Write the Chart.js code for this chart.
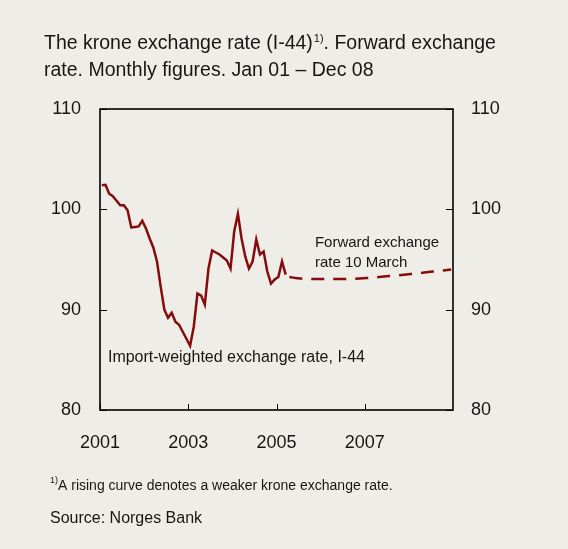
<!DOCTYPE html>
<html>
<head>
<meta charset="utf-8">
<title>The krone exchange rate (I-44)</title>
<script src="https://cdn.jsdelivr.net/npm/chart.js@4.4.1/dist/chart.umd.min.js"></script>
<style>
  html, body { margin: 0; padding: 0; background: #efede7; }
  #wrap { position: relative; width: 568px; height: 549px; }
</style>
</head>
<body>
<div id="wrap"><canvas id="krone" width="568" height="549"></canvas></div>
<script>
// Import-weighted exchange rate I-44, monthly averages from Jan 2001
const actualStart = '2001-01';
const actualValues = [
  102.4, 102.45, 101.55, 101.3, 100.85, 100.4, 100.4, 99.9, 98.2, 98.25, 98.3, 98.85,
  98.1, 97.1, 96.2, 94.8, 92.3, 90.0, 89.2, 89.7, 88.8, 88.5, 87.8, 87.1,
  86.4, 88.3, 91.6, 91.4, 90.5, 94.1, 95.9, 95.7, 95.5, 95.2, 94.9, 94.1,
  97.8, 99.55, 97.1, 95.3, 94.1, 94.8, 97.0, 95.5, 95.8, 93.8, 92.6, 93.0,
  93.25, 94.8, 93.5
];

// Forward exchange rate as of 10 March
const forwardMonths = ['2005-04', '2005-07', '2006-01', '2006-07', '2007-01', '2007-07', '2008-01', '2008-07', '2008-12'];
const forwardValues = [93.25, 93.1, 93.05, 93.05, 93.15, 93.35, 93.55, 93.8, 94.0];

const xTickYears = [2001, 2003, 2005, 2007];
const yTicks = [80, 90, 100, 110];

const FONT = "'Liberation Sans', Arial, sans-serif";
const RED = '#860b0b';
const INK = '#161616';

// month string -> decimal year, placed mid-month
function monthToX(s) {
  const [y, m] = s.split('-').map(Number);
  return y + (m - 0.5) / 12;
}

const x0 = monthToX(actualStart);
const actualPoints = actualValues.map((v, i) => ({ x: x0 + i / 12, y: v }));
const forwardPoints = forwardValues.map((v, i) => ({ x: monthToX(forwardMonths[i]), y: v }));

// box around the plot plus the small inward tick marks
const framePlugin = {
  id: 'frame',
  afterDatasetsDraw(chart) {
    const { ctx, chartArea: a, scales } = chart;
    ctx.save();
    ctx.strokeStyle = '#000';
    ctx.lineWidth = 1;
    ctx.beginPath();
    yTicks.forEach(v => {
      const y = Math.round(scales.y.getPixelForValue(v)) + 0.5;
      ctx.moveTo(a.left, y); ctx.lineTo(a.left + 7, y);
      ctx.moveTo(a.right, y); ctx.lineTo(a.right - 7, y);
    });
    xTickYears.forEach(v => {
      const x = Math.round(scales.x.getPixelForValue(v)) + 0.5;
      ctx.moveTo(x, a.bottom); ctx.lineTo(x, a.bottom - 6);
    });
    ctx.stroke();
    ctx.lineWidth = 1.6;
    ctx.strokeRect(a.left, a.top, a.right - a.left, a.bottom - a.top);
    ctx.restore();
  }
};

// title, series labels and footnotes
const textPlugin = {
  id: 'texts',
  afterDraw(chart) {
    const { ctx, scales } = chart;
    ctx.save();
    ctx.fillStyle = INK;
    ctx.textBaseline = 'alphabetic';
    ctx.textAlign = 'left';

    // title, with superscript note marker
    ctx.font = `19.5px ${FONT}`;
    let x = 44;
    let part = 'The krone exchange rate (I-44)';
    ctx.fillText(part, x, 49);
    x += ctx.measureText(part).width + 1;
    ctx.font = `11px ${FONT}`;
    ctx.fillText('1)', x, 42);
    x += ctx.measureText('1)').width;
    ctx.font = `19.5px ${FONT}`;
    ctx.fillText('. Forward exchange', x, 49);
    ctx.fillText('rate. Monthly figures. Jan 01 \u2013 Dec 08', 44, 76);

    // series labels
    ctx.font = `15px ${FONT}`;
    const fx = scales.x.getPixelForValue(2005.87);
    ctx.fillText('Forward exchange', fx, scales.y.getPixelForValue(96.25));
    ctx.fillText('rate 10 March', fx, scales.y.getPixelForValue(94.3));
    ctx.font = `16px ${FONT}`;
    ctx.fillText('Import-weighted exchange rate, I-44',
      scales.x.getPixelForValue(2001.18), scales.y.getPixelForValue(84.75));

    // footnote and source
    ctx.font = `9px ${FONT}`;
    ctx.fillText('1)', 50, 483);
    ctx.font = `14px ${FONT}`;
    ctx.fillText('A rising curve denotes a weaker krone exchange rate.', 58, 490);
    ctx.font = `16px ${FONT}`;
    ctx.fillText('Source: Norges Bank', 50, 523);
    ctx.restore();
  }
};

const tickFont = { family: FONT, size: 18 };

new Chart(document.getElementById('krone'), {
  type: 'line',
  data: {
    datasets: [
      {
        label: 'Import-weighted exchange rate, I-44',
        data: actualPoints,
        borderColor: RED,
        borderWidth: 2.5,
        pointRadius: 0,
        tension: 0,
        fill: false
      },
      {
        label: 'Forward exchange rate 10 March',
        data: forwardPoints,
        borderColor: RED,
        borderWidth: 2.5,
        borderDash: [13, 9],
        pointRadius: 0,
        tension: 0.4,
        cubicInterpolationMode: 'monotone',
        fill: false
      }
    ]
  },
  options: {
    responsive: false,
    animation: false,
    events: [],
    layout: { padding: { left: 0, right: 0, top: 109, bottom: 0 } },
    plugins: {
      legend: { display: false },
      title: { display: false },
      tooltip: { enabled: false }
    },
    scales: {
      x: {
        type: 'linear',
        position: 'bottom',
        min: 2001,
        max: 2009,
        afterBuildTicks: s => { s.ticks = xTickYears.map(v => ({ value: v })); },
        afterFit: s => { s.height = 139; },
        grid: { display: false, drawTicks: false },
        border: { display: false },
        ticks: {
          autoSkip: false,
          maxRotation: 0,
          padding: 22,
          color: INK,
          font: tickFont,
          callback: v => String(v)
        }
      },
      y: {
        position: 'left',
        min: 80,
        max: 110,
        afterBuildTicks: s => { s.ticks = yTicks.map(v => ({ value: v })); },
        afterFit: s => { s.width = 100; },
        grid: { display: false, drawTicks: false },
        border: { display: false },
        ticks: { padding: 19, color: INK, font: tickFont, callback: v => String(v) }
      },
      yRight: {
        position: 'right',
        min: 80,
        max: 110,
        afterBuildTicks: s => { s.ticks = yTicks.map(v => ({ value: v })); },
        afterFit: s => { s.width = 115; },
        grid: { display: false, drawTicks: false },
        border: { display: false },
        ticks: { padding: 18, color: INK, font: tickFont, callback: v => String(v) }
      }
    }
  },
  plugins: [framePlugin, textPlugin]
});
</script>
</body>
</html>
